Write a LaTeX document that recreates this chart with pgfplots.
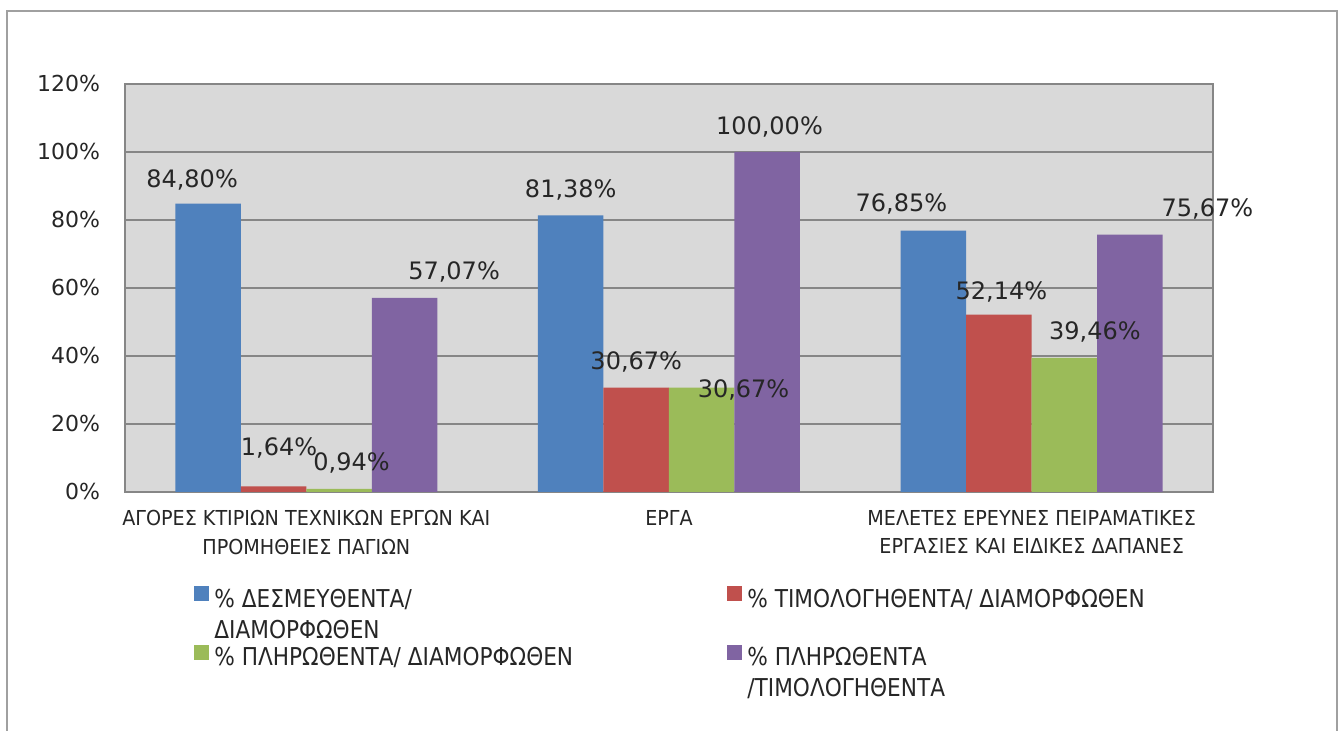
\documentclass[border=0pt]{standalone}
\usepackage{fontspec}
\setmainfont{DejaVu Sans}
\newfontfamily\condfont[FakeStretch=0.93]{DejaVu Sans}
\newfontfamily\legfont[FakeStretch=0.88]{DejaVu Sans}
\usepackage{pgfplots}
\usepackage{pgfplotstable}
\pgfplotsset{compat=1.18}
\definecolor{cblue}{HTML}{4F81BD}
\definecolor{cred}{HTML}{C0504D}
\definecolor{cgreen}{HTML}{9BBB59}
\definecolor{cpurple}{HTML}{8064A2}
\definecolor{plotbg}{HTML}{D9D9D9}
\definecolor{gridgray}{HTML}{868686}
\definecolor{framegray}{HTML}{A0A0A0}

% x: category, y: value, dx/dy: label offset (pt)
\pgfplotstableread{
x y dx dy
0 84.80 -8 12.5
1 81.38 0 13.5
2 76.85 -16 14
}\sone
\pgfplotstableread{
x y dx dy
0 1.64 2.75 20
1 30.67 0 13.3
2 52.14 1.25 11.8
}\stwo
\pgfplotstableread{
x y dx dy
0 0.94 6.25 13.5
1 30.67 20.9 -0.65
2 39.46 15.25 13.4
}\sthree
\pgfplotstableread{
x y dx dy
0 57.07 24.75 13.5
1 100.00 1.1 13
2 75.67 38.75 13.3
}\sfour

\pgfplotsset{
  lab/.style={
    visualization depends on={\thisrow{dx}\as\dx},
    visualization depends on={\thisrow{dy}\as\dy},
    nodes near coords={\pgfmathprintnumber[fixed,fixed zerofill,precision=2,use comma,assume math mode=true]{\pgfplotspointmeta}\%},
    nodes near coords style={anchor=base, inner sep=0pt, text=black!85,
      font=\fontsize{12}{14}\selectfont, xshift=\dx pt, yshift=\dy pt-4.4pt},
  },
}

\begin{document}
\begin{tikzpicture}
\begin{axis}[
  width=544pt, height=204pt, scale only axis,
  xmin=-0.5, xmax=2.5, ymin=0, ymax=120,
  ybar=0pt, bar width=32.75pt,
  clip=false,
  xtick={0,1,2},
  xticklabels={{ΑΓΟΡΕΣ ΚΤΙΡΙΩΝ ΤΕΧΝΙΚΩΝ ΕΡΓΩΝ ΚΑΙ\\ΠΡΟΜΗΘΕΙΕΣ ΠΑΓΙΩΝ},{ΕΡΓΑ},{ΜΕΛΕΤΕΣ ΕΡΕΥΝΕΣ ΠΕΙΡΑΜΑΤΙΚΕΣ\\ΕΡΓΑΣΙΕΣ ΚΑΙ ΕΙΔΙΚΕΣ ΔΑΠΑΝΕΣ}},
  xticklabel style={align=center, font=\condfont\fontsize{10.3}{14.1}\selectfont, text=black!85, yshift=-5.8pt},
  ytick={0,20,...,120},
  yticklabel={\pgfmathprintnumber[assume math mode=true]{\tick}\%},
  yticklabel style={font=\fontsize{11}{13}\selectfont, text=black!85, xshift=-9pt},
  major tick length=0pt,
  axis background/.style={fill=plotbg},
  ymajorgrids, grid style={draw=gridgray, line width=0.6pt},
  axis line style={draw=gridgray, line width=0.6pt},
  legend columns=2,
  legend cell align=left,
  legend style={at={(axis description cs:0,0)}, anchor=north west,
    xshift=34.5pt, yshift=-47pt, draw=none, fill=none, inner sep=0pt,
    nodes={inner sep=0pt},
    font=\legfont\fontsize{12.3}{15.5}\selectfont, text=black!85,
    row sep=17.5pt,
    /tikz/every odd column/.append style={column sep=2.5pt},
    /tikz/every even column/.append style={column sep=26.5pt}},
  legend image code/.code={\fill[#1] (0pt,-1pt) rectangle (7.5pt,6.5pt);},
]
\addplot[fill=cblue, draw=none, lab] table[x=x,y=y] {\sone};
\addlegendentry{\parbox[t]{230pt}{\% ΔΕΣΜΕΥΘΕΝΤΑ/\\ΔΙΑΜΟΡΦΩΘΕΝ}}
\addplot[fill=cred, draw=none, lab] table[x=x,y=y] {\stwo};
\addlegendentry{\parbox[t]{230pt}{\% ΤΙΜΟΛΟΓΗΘΕΝΤΑ/ ΔΙΑΜΟΡΦΩΘΕΝ}}
\addplot[fill=cgreen, draw=none, lab] table[x=x,y=y] {\sthree};
\addlegendentry{\parbox[t]{230pt}{\% ΠΛΗΡΩΘΕΝΤΑ/ ΔΙΑΜΟΡΦΩΘΕΝ}}
\addplot[fill=cpurple, draw=none, lab] table[x=x,y=y] {\sfour};
\addlegendentry{\parbox[t]{230pt}{\% ΠΛΗΡΩΘΕΝΤΑ\\/ΤΙΜΟΛΟΓΗΘΕΝΤΑ}}
\end{axis}
\draw[framegray, line width=1pt] (-59pt,-140pt) rectangle (606pt,240.5pt);
\pgfresetboundingbox
\useasboundingbox (-62.5pt,-119.5pt) rectangle (608pt,246pt);
\end{tikzpicture}
\end{document}
